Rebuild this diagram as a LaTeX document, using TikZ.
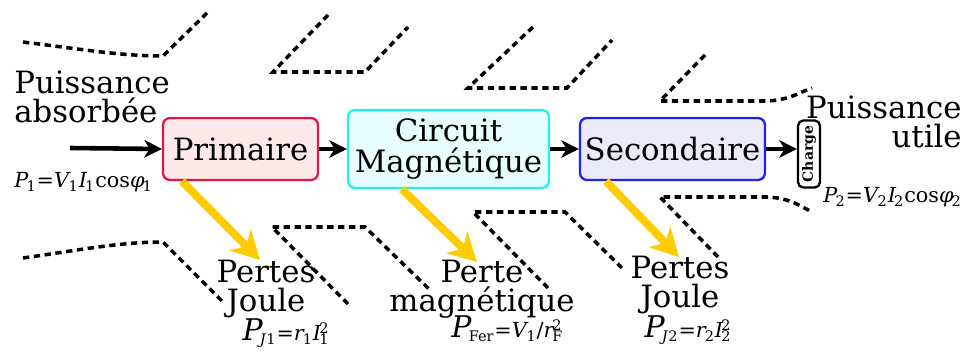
\documentclass[tikz,border=0pt]{standalone}
\usepackage{fontspec}
\setmainfont{DejaVu Serif}
\usepackage{xcolor}
\definecolor{primred}{HTML}{E0174A}
\definecolor{primfill}{HTML}{FDE8EA}
\definecolor{magcyan}{HTML}{1FF0F0}
\definecolor{magfill}{HTML}{E8FDFD}
\definecolor{secblue}{HTML}{2222F0}
\definecolor{secfill}{HTML}{EAEAFB}
\definecolor{lossgold}{HTML}{FFCC00}
\usepackage{tikz}
\usetikzlibrary{arrows.meta}

\newcommand{\vsub}[2]{\textit{#1}\kern-0.1em\textsubscript{#2}}
\newcommand{\vsubsup}[3]{\textit{#1}\kern-0.1em\rlap{\textsubscript{#2}}\textsuperscript{#3}}
\newcommand{\bigP}{{\fontsize{17}{17}\selectfont\textit{P}}\kern-0.15em}

\begin{document}
\begin{tikzpicture}[x=0.02cm, y=-0.02cm,
  block/.style={
    line width=1.3pt, rounded corners=4pt,
    align=center, inner sep=0pt,
    font=\fontsize{17.5}{18}\selectfont
  },
  txt/.style={font=\fontsize{17.5}{17}\selectfont, inner sep=0pt},
  formula/.style={font=\fontsize{11.8}{13}\selectfont, inner sep=0pt},
  flow/.style={-{Stealth[length=10pt, width=10pt, inset=3pt]}, line width=2.6pt},
  loss/.style={-{Stealth[length=16pt, width=17pt, inset=5pt]}, line width=4.5pt, lossgold},
  rim/.style={dash pattern=on 3.6pt off 2.6pt, line width=2pt}
]
\useasboundingbox (0,0) rectangle (975,354);

% ---- Blocs ----
\node[block, draw=primred, fill=primfill, minimum width=3.1cm, minimum height=1.24cm]
  (prim) at (240.5,149) {Primaire};
\node[block, draw=magcyan, fill=magfill, minimum width=4.02cm, minimum height=1.56cm]
  (mag) at (448.5,149) {Circuit\\Magnétique};
\node[block, draw=secblue, fill=secfill, minimum width=3.7cm, minimum height=1.24cm]
  (sec) at (672.5,149) {Secondaire};
\node[draw, fill=white, line width=1.3pt, rounded corners=3pt, inner sep=0pt,
  minimum width=0.44cm, minimum height=1.34cm]
  (load) at (809,154) {};
\node[rotate=90, font=\fontsize{8}{8}\selectfont\bfseries, inner sep=0pt]
  (loadtxt) at (load.center) {Charge};

% ---- Puissances ----
\node[txt, align=left, anchor=base west] (pin) at (14,123) {Puissance\\absorbée};
\node[formula, anchor=base west] (pinf) at (14,188)
  {\vsub{P}{1}=\vsub{V}{1}\vsub{I}{1}cos\vsub{φ}{1}};
\node[txt, align=right, anchor=base east] (pout) at (962,148) {Puissance\\utile};
\node[formula, anchor=base west] (poutf) at (823,203)
  {\vsub{P}{2}=\vsub{V}{2}\vsub{I}{2}cos\vsub{φ}{2}};

% ---- Pertes ----
\node[txt, align=center, anchor=base] (pj1) at (266,312) {Pertes\\Joule};
\node[formula, anchor=base] (pj1f) at (286,341)
  {\bigP\textsubscript{\textit{J}1}=\vsub{r}{1}\vsubsup{I}{1}{2}};
\node[txt, align=center, anchor=base] (pfe) at (482,312) {Perte\\magnétique};
\node[formula, anchor=base] (pfef) at (507,338)
  {\bigP\textsubscript{Fer}=\vsub{V}{1}/\vsubsup{r}{F}{2}};
\node[txt, align=center, anchor=base] (pj2) at (680,308) {Pertes\\Joule};
\node[formula, anchor=base] (pj2f) at (688,338)
  {\bigP\textsubscript{\textit{J}2}=\vsub{r}{2}\vsubsup{I}{2}{2}};

% Flux de puissance
\coordinate (src) at (70,148);
\draw[flow] (src) -- (prim.west);
\draw[flow] (prim.east) -- (mag.west);
\draw[flow] (mag.east) -- (sec.west);
\draw[flow] (sec.east) -- (sec.east -| load.west);

% Flèches de pertes
\coordinate (tip1) at (260,260);
\coordinate (tip2) at (477,262);
\coordinate (tip3) at (679,257);
\draw[loss] (prim.south west) ++(20,0) -- (tip1);
\draw[loss] (mag.south west) ++(55,0) -- (tip2);
\draw[loss] (sec.south west) ++(27,0) -- (tip3);

% ---- Contour (arêtes) ----
\draw[rim] (23,42) .. controls (80,49) and (120,56) .. (163,56) -- (207,13);
\draw[rim] (328,15) -- (273,72) -- (365,72) -- (408,27);
\draw[rim] (533,27) -- (468,88) -- (567,88) -- (612,40);
\draw[rim] (705,55) -- (660,101) -- (767,101) .. controls (790,100) and (800,92) .. (812,88);
\draw[rim] (23,258) .. controls (80,250) and (120,242) .. (163,242) -- (222,301);
\draw[rim] (348,304) -- (272,227) -- (365,227) -- (430,290);
\draw[rim] (548,288) -- (473,212) -- (565,212) -- (622,268);
\draw[rim] (718,257) -- (660,197) -- (767,197) .. controls (790,198) and (800,206) .. (812,212);

\end{tikzpicture}
\end{document}
